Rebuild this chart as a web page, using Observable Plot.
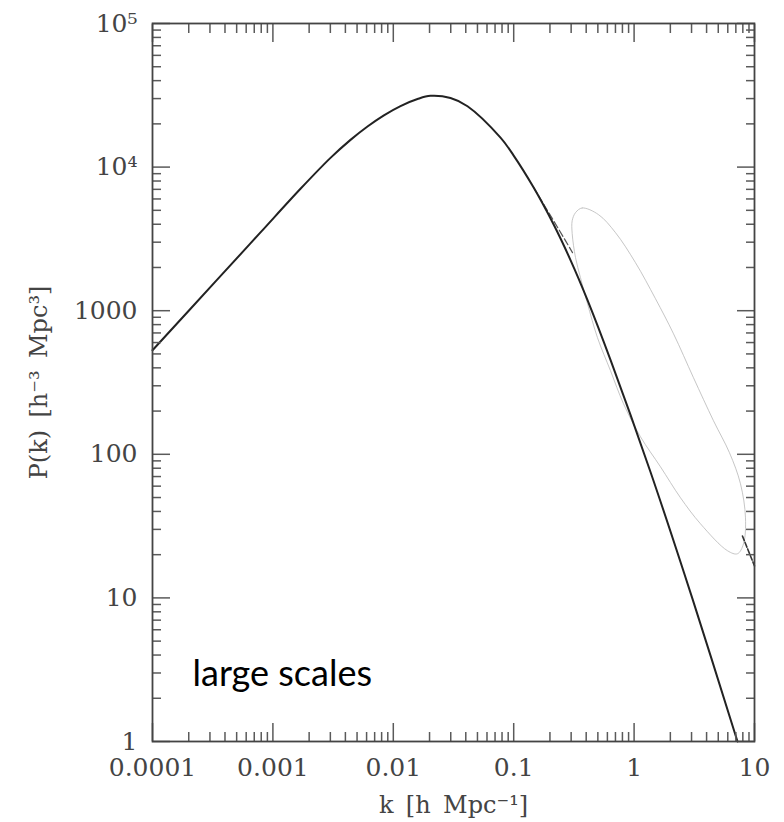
<!DOCTYPE html>
<html>
<head>
<meta charset="utf-8">
<script src="https://cdn.jsdelivr.net/npm/d3@7"></script>
<script src="https://cdn.jsdelivr.net/npm/@observablehq/plot@0.6"></script>
<style>
  html, body { margin: 0; padding: 0; background: #fff; }
</style>
</head>
<body>
<div id="chart"></div>
<script>
// Linear power spectrum (solid)
const kMain = [1e-4, 3.446e-4, 7.888e-4, 1.695e-3, 3.009e-3, 4.411e-3, 6.105e-3, 8.29e-3, 0.011477, 0.015888, 0.02037, 0.029868, 0.041335, 0.077694, 0.099612, 0.14604, 0.21416, 0.29636, 0.41025, 0.6368, 1.3685, 3.0549, 7.224];
const pMain = [530.5, 1644, 3508, 7061, 11590, 15470, 19180, 22850, 26610, 29780, 31350, 30260, 26530, 16030, 12080, 7232, 3995, 2252, 1185, 454, 75.3, 9.84, 1];

// Dashed branch near the turnover
const kDash = [0.14604, 0.2142, 0.2692, 0.3079];
const pDash = [7232, 4239, 3074, 2537];

// Faint closed loop
const kLoop = [0.3262, 0.3707, 0.5063, 0.7005, 1.027, 1.505, 2.125, 3.114, 4.565, 6.2, 7.65, 8.418, 8.102, 7.224, 5.967, 3.561, 2.429, 1.657, 1.13, 0.8166, 0.6368, 0.4966, 0.4102, 0.3587, 0.3262, 0.3061, 0.3061];
const pLoop = [4818, 5196, 4667, 3497, 2160, 1212, 691, 341.3, 171.2, 102.4, 62.3, 36.1, 23.8, 20.3, 21.3, 32.8, 49.8, 81.8, 132.4, 224.9, 381.9, 648.3, 1119, 1698, 2341, 3441, 4239];

// Short dark segment at right edge
const kEdge = [7.94, 10];
const pEdge = [27.0, 16.7];

// Tick values and labels
const xMajor = [1e-4, 1e-3, 1e-2, 0.1, 1, 10];
const xTickLabels = ["0.0001", "0.001", "0.01", "0.1", "1", "10"];
const yMajor = [1, 10, 100, 1000, 1e4, 1e5];
const yTickLabels = ["1", "10", "100", "1000", "10\u2074", "10\u2075"];

const xLabel = "k\u00a0\u2009[h\u00a0\u2009Mpc\u207b\u00b9]";
const yLabel = "P(k)\u00a0\u2009[h\u207b\u00b3\u00a0\u2009Mpc\u00b3]";
const note = "large scales";

function minorTicks(e0, e1) {
  const out = [];
  for (let e = e0; e < e1; e++) for (let m = 2; m <= 9; m++) out.push(m * Math.pow(10, e));
  return out;
}
const xMinor = minorTicks(-4, 1);
const yMinor = minorTicks(0, 5);

const zip = (ks, ps) => ks.map((k, i) => ({k, p: ps[i]}));
const mainData = zip(kMain, pMain);
const dashData = zip(kDash, pDash);
const loopData = zip(kLoop, pLoop);
const edgeData = zip(kEdge, pEdge);

const xLab = new Map(xMajor.map((d, i) => [d, xTickLabels[i]]));
const yLab = new Map(yMajor.map((d, i) => [d, yTickLabels[i]]));

const tickColor = "#5a5a5a";
const textColor = "#444";
const tw = 1.5;
const blank = () => "";
const MAJ = -18, MIN = -9;

const tickMarks = [];
for (const anchor of ["bottom", "top"]) {
  tickMarks.push(Plot.axisX(xMajor, {anchor, tickSize: MAJ, tickFormat: blank, stroke: tickColor, strokeWidth: tw, label: null}));
  tickMarks.push(Plot.axisX(xMinor, {anchor, tickSize: MIN, tickFormat: blank, stroke: tickColor, strokeWidth: tw, label: null}));
}
for (const anchor of ["left", "right"]) {
  tickMarks.push(Plot.axisY(yMajor, {anchor, tickSize: MAJ, tickFormat: blank, stroke: tickColor, strokeWidth: tw, label: null}));
  tickMarks.push(Plot.axisY(yMinor, {anchor, tickSize: MIN, tickFormat: blank, stroke: tickColor, strokeWidth: tw, label: null}));
}

const chart = Plot.plot({
  width: 784,
  height: 822,
  marginLeft: 152,
  marginRight: 30,
  marginTop: 23,
  marginBottom: 81,
  x: {type: "log", domain: [1e-4, 10], label: null},
  y: {type: "log", domain: [1, 1e5], label: null},
  style: {fontFamily: "DejaVu Serif", fontSize: "25px", color: textColor, background: "#fff"},
  marks: [
    Plot.line(loopData, {x: "k", y: "p", curve: "catmull-rom-closed", stroke: "#b8b8b8", strokeWidth: 0.8}),
    Plot.line(dashData, {x: "k", y: "p", curve: "catmull-rom", stroke: "#555", strokeWidth: 1.2, strokeDasharray: "7,3"}),
    Plot.line(mainData, {x: "k", y: "p", curve: "catmull-rom", stroke: "#222", strokeWidth: 2}),
    Plot.line(edgeData, {x: "k", y: "p", stroke: "#333", strokeWidth: 1.6, strokeDasharray: "5,2"}),
    ...tickMarks,
    Plot.frame({stroke: "#444", strokeWidth: 1.8}),
    Plot.axisX(xMajor, {anchor: "bottom", tickSize: 0, tickPadding: 17, tickFormat: d => xLab.get(d), fill: textColor, label: null}),
    Plot.axisY(yMajor, {anchor: "left", tickSize: 0, tickPadding: 15, tickFormat: d => yLab.get(d), fill: textColor, label: null}),
    Plot.text([xLabel], {text: d => d, frameAnchor: "bottom", textAnchor: "middle", lineAnchor: "bottom", dy: 71, fontSize: 24, fill: textColor}),
    Plot.text([yLabel], {text: d => d, frameAnchor: "left", textAnchor: "middle", lineAnchor: "middle", rotate: -90, dx: -113, fontSize: 24, fill: textColor}),
    Plot.text([note], {text: d => d, frameAnchor: "bottom-left", textAnchor: "start", lineAnchor: "bottom", dx: 40, dy: -56, fontFamily: "Lato", fontSize: 36, fill: "#000"})
  ]
});
document.getElementById("chart").appendChild(chart);
</script>
</body>
</html>
